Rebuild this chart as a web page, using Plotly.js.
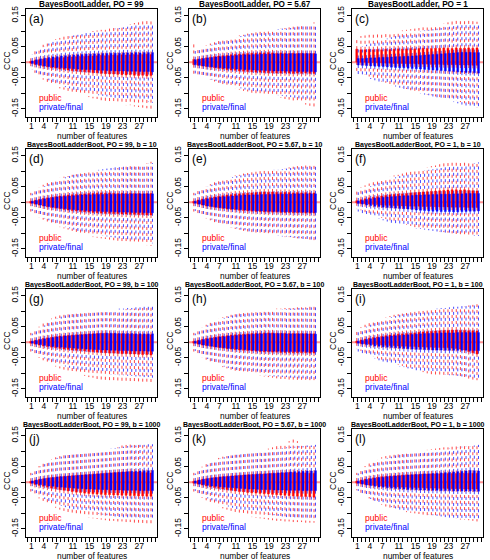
<!DOCTYPE html>
<html>
<head>
<meta charset="utf-8">
<script src="https://cdn.plot.ly/plotly-3.0.1.min.js"></script>
<style>html,body{margin:0;padding:0;background:#fff;}#chart{width:490px;height:560px;}</style>
</head>
<body>
<div id="chart"></div>
<script>
// ---------- data (CCC values in thousandths) ----------
const FEATURES = [1,2,3,4,5,6,7,8,9,10,11,12,13,14,15,16,17,18,19,20,21,22,23,24,25,26,27,28,29,30];
const X_TICK_VALUES = [1,4,7,11,15,19,23,27];
const X_TICK_LABELS = ['1','4','7','11','15','19','23','27'];
const Y_TICK_VALUES = [-0.15,-0.05,0.05,0.15];
const Y_TICK_LABELS = ['-0.15','-0.05','0.05','0.15'];
const PANEL_TITLES = [
  'BayesBootLadder, PO = 99','BayesBootLadder, PO = 5.67','BayesBootLadder, PO = 1',
  'BayesBootLadderBoot, PO = 99, b = 10','BayesBootLadderBoot, PO = 5.67, b = 10','BayesBootLadderBoot, PO = 1, b = 10',
  'BayesBootLadderBoot, PO = 99, b = 100','BayesBootLadderBoot, PO = 5.67, b = 100','BayesBootLadderBoot, PO = 1, b = 100',
  'BayesBootLadderBoot, PO = 99, b = 1000','BayesBootLadderBoot, PO = 5.67, b = 1000','BayesBootLadderBoot, PO = 1, b = 1000'];
const PANEL_LETTERS = ['(a)','(b)','(c)','(d)','(e)','(f)','(g)','(h)','(i)','(j)','(k)','(l)'];
const SERIES_NAMES = ['public','private/final'];

// Panel a
const A_PUB_Q3 = [3,6,8,10,12,12,14,15,15,17,17,18,19,19,20,20,21,22,21,22,23,22,24,23,24,25,24,25,26,25];
const A_PUB_Q1 = [-3,-7,-10,-13,-15,-18,-19,-22,-23,-25,-27,-28,-30,-31,-32,-34,-34,-36,-37,-38,-38,-39,-40,-41,-40,-42,-43,-42,-44,-43];
const A_PUB_HI = [22,36,46,56,60,68,74,78,82,84,86,90,92,94,96,100,102,104,104,108,110,112,116,118,122,126,128,132,136,140];
const A_PUB_LO = [-22,-34,-46,-56,-64,-72,-76,-84,-88,-92,-96,-100,-104,-108,-112,-116,-118,-122,-124,-128,-130,-132,-136,-138,-138,-142,-144,-146,-148,-150];
const A_PRV_Q3 = [4,8,11,13,15,17,18,20,21,22,23,24,25,26,26,27,27,28,28,29,29,29,30,30,30,31,30,31,31,31];
const A_PRV_Q1 = [-4,-7,-10,-12,-14,-15,-17,-18,-19,-20,-21,-22,-23,-24,-24,-25,-26,-26,-27,-27,-28,-28,-28,-29,-29,-29,-30,-30,-30,-31];
const A_PRV_HI = [24,34,44,52,60,66,70,76,78,82,86,88,90,94,96,98,100,102,104,106,108,110,112,114,116,118,120,120,122,124];
const A_PRV_LO = [-24,-34,-42,-50,-58,-64,-70,-74,-80,-84,-88,-90,-94,-98,-100,-102,-106,-108,-110,-112,-114,-116,-118,-120,-122,-122,-124,-126,-128,-130];
// Panel b
const B_PUB_Q3 = [9,10,12,14,16,18,20,21,22,24,25,26,27,28,29,29,30,30,31,30,29,30,29,28,29,28,29,28,28,28];
const B_PUB_Q1 = [-8,-10,-12,-14,-16,-18,-20,-22,-24,-25,-26,-28,-29,-30,-31,-32,-32,-33,-34,-34,-35,-35,-34,-35,-36,-35,-36,-35,-36,-36];
const B_PUB_HI = [58,44,48,54,60,64,68,72,76,80,82,86,88,92,94,96,98,100,102,104,106,108,110,112,114,116,118,120,124,128];
const B_PUB_LO = [-40,-40,-44,-50,-56,-62,-66,-72,-76,-80,-84,-88,-92,-94,-98,-100,-104,-106,-108,-110,-112,-114,-118,-120,-124,-128,-132,-136,-140,-146];
const B_PRV_Q3 = [8,10,12,14,15,17,18,19,20,21,22,23,24,24,25,25,26,26,26,27,27,27,27,28,27,28,28,28,28,27];
const B_PRV_Q1 = [-8,-10,-12,-14,-15,-17,-18,-19,-20,-21,-22,-23,-24,-24,-25,-26,-26,-27,-27,-28,-28,-28,-29,-29,-29,-30,-30,-30,-30,-31];
const B_PRV_HI = [36,40,46,52,56,62,66,70,74,78,80,84,88,90,92,96,98,100,102,104,106,108,108,110,112,114,116,118,120,122];
const B_PRV_LO = [-36,-40,-46,-50,-56,-60,-66,-70,-74,-78,-80,-84,-88,-90,-94,-96,-98,-100,-102,-104,-106,-108,-110,-112,-114,-116,-118,-120,-122,-124];
// Panel c
const C_PUB_Q3 = [42,40,40,41,40,41,40,42,41,42,43,42,43,44,43,44,45,44,44,45,45,46,45,44,46,45,45,46,45,46];
const C_PUB_Q1 = [1,0,0,-1,-1,-2,-2,-3,-3,-4,-4,-4,-5,-5,-5,-6,-6,-6,-7,-7,-7,-8,-8,-8,-8,-9,-9,-9,-10,-10];
const C_PUB_HI = [80,84,86,88,90,92,92,94,96,98,100,102,104,106,108,110,112,114,116,118,120,124,128,134,140,138,136,134,132,130];
const C_PUB_LO = [-30,-34,-40,-46,-52,-56,-62,-66,-70,-74,-78,-82,-86,-90,-94,-98,-100,-104,-106,-110,-112,-116,-118,-122,-124,-128,-132,-136,-140,-146];
const C_PRV_Q3 = [12,12,13,14,14,15,16,16,17,18,18,19,19,20,21,22,23,24,25,26,27,28,29,30,31,32,32,32,31,31];
const C_PRV_Q1 = [-9,-10,-11,-12,-13,-14,-14,-15,-16,-17,-18,-18,-19,-20,-21,-22,-23,-24,-25,-26,-27,-28,-29,-30,-31,-32,-33,-33,-34,-35];
const C_PRV_HI = [48,52,56,60,64,68,72,76,80,84,86,90,92,96,98,100,102,104,106,108,110,112,114,116,118,120,120,122,124,126];
const C_PRV_LO = [-40,-44,-48,-54,-58,-62,-66,-70,-74,-78,-82,-86,-88,-92,-96,-100,-104,-106,-110,-114,-118,-122,-124,-128,-132,-136,-140,-144,-148,-150];
// Panel d
const D_PUB_Q3 = [3,6,9,12,14,16,18,20,21,23,24,25,26,27,28,28,29,30,29,30,29,28,29,28,29,28,28,27,28,28];
const D_PUB_Q1 = [-3,-6,-9,-12,-15,-17,-19,-21,-23,-25,-27,-28,-30,-31,-32,-33,-34,-35,-36,-36,-37,-37,-38,-38,-39,-39,-40,-40,-41,-41];
const D_PUB_HI = [30,40,48,56,62,68,74,78,82,84,88,90,92,94,96,98,100,102,104,106,108,110,112,114,116,118,120,122,126,130];
const D_PUB_LO = [-30,-40,-48,-56,-62,-68,-74,-80,-84,-88,-92,-96,-100,-104,-108,-112,-114,-116,-118,-120,-122,-124,-126,-128,-130,-132,-134,-136,-138,-140];
const D_PRV_Q3 = [3,6,9,11,13,15,17,18,19,20,21,22,23,24,24,25,25,25,26,26,26,26,27,26,27,27,27,27,27,27];
const D_PRV_Q1 = [-3,-6,-9,-12,-14,-16,-18,-20,-21,-23,-24,-25,-26,-27,-28,-29,-29,-30,-30,-31,-31,-32,-32,-32,-33,-33,-33,-34,-34,-34];
const D_PRV_HI = [28,36,44,52,58,64,70,74,80,84,88,92,94,98,100,102,104,106,108,110,112,114,116,116,118,120,120,122,124,126];
const D_PRV_LO = [-28,-36,-44,-52,-58,-64,-70,-74,-80,-84,-88,-92,-94,-98,-100,-104,-106,-108,-110,-112,-114,-116,-118,-120,-122,-124,-126,-128,-130,-132];
// Panel e
const E_PUB_Q3 = [3,7,10,13,15,17,19,21,23,24,26,27,28,29,30,31,32,33,32,33,32,31,32,31,30,31,30,31,30,30];
const E_PUB_Q1 = [-3,-6,-9,-12,-14,-16,-18,-20,-22,-23,-24,-26,-27,-28,-29,-30,-30,-31,-32,-32,-32,-33,-33,-33,-34,-34,-34,-35,-35,-35];
const E_PUB_HI = [30,38,46,52,58,64,70,74,78,82,86,88,92,94,96,98,100,102,104,106,108,108,110,112,114,116,116,118,120,122];
const E_PUB_LO = [-30,-38,-46,-52,-58,-64,-70,-74,-78,-82,-86,-88,-92,-94,-96,-98,-100,-102,-104,-106,-108,-110,-112,-112,-114,-116,-116,-118,-120,-122];
const E_PRV_Q3 = [3,6,9,11,13,15,17,18,19,20,21,22,23,23,24,24,25,25,25,26,26,26,26,26,27,27,27,27,27,27];
const E_PRV_Q1 = [-3,-6,-9,-12,-14,-16,-18,-19,-21,-22,-23,-24,-25,-26,-27,-28,-28,-29,-29,-30,-30,-31,-31,-31,-32,-32,-32,-32,-33,-33];
const E_PRV_HI = [28,36,44,50,56,62,68,72,76,80,84,86,90,92,94,96,98,100,102,104,104,106,108,110,112,112,114,116,118,120];
const E_PRV_LO = [-28,-36,-44,-50,-56,-62,-68,-72,-76,-80,-84,-88,-90,-94,-96,-98,-100,-102,-104,-106,-108,-110,-110,-112,-114,-116,-118,-118,-120,-122];
// Panel f
const F_PUB_Q3 = [5,8,11,14,16,18,20,22,24,25,26,27,28,30,31,32,33,34,35,36,37,38,39,40,40,39,40,38,37,36];
const F_PUB_Q1 = [-2,-4,-5,-6,-7,-8,-9,-10,-10,-11,-11,-12,-12,-13,-13,-13,-14,-14,-14,-15,-15,-15,-15,-16,-16,-16,-16,-17,-17,-17];
const F_PUB_HI = [40,48,54,60,66,70,74,78,82,86,88,92,96,100,102,106,108,112,116,118,122,126,128,130,132,130,128,126,124,124];
const F_PUB_LO = [-22,-26,-32,-36,-42,-46,-50,-54,-58,-62,-66,-70,-72,-76,-80,-84,-86,-88,-90,-92,-94,-96,-98,-100,-102,-104,-106,-108,-110,-112];
const F_PRV_Q3 = [4,6,9,11,13,14,16,17,18,19,20,21,21,22,23,23,24,24,25,25,26,26,26,27,27,27,28,28,28,28];
const F_PRV_Q1 = [-4,-6,-9,-11,-13,-14,-16,-17,-18,-19,-20,-21,-22,-23,-25,-26,-27,-28,-29,-29,-30,-30,-30,-31,-31,-30,-30,-29,-29,-28];
const F_PRV_HI = [32,40,46,52,58,62,68,72,76,80,84,86,90,94,96,98,102,104,106,108,110,112,114,116,118,120,122,124,126,128];
const F_PRV_LO = [-30,-36,-42,-46,-50,-54,-58,-62,-66,-70,-72,-76,-78,-80,-84,-86,-88,-90,-92,-94,-96,-98,-100,-100,-102,-104,-104,-106,-108,-108];
// Panel g
const G_PUB_Q3 = [3,6,9,12,14,16,18,20,21,22,23,24,25,26,27,27,28,29,29,28,28,27,27,26,26,26,25,25,25,24];
const G_PUB_Q1 = [-3,-6,-9,-12,-14,-16,-18,-20,-22,-23,-25,-26,-27,-28,-30,-31,-32,-33,-34,-35,-35,-36,-37,-37,-38,-38,-39,-40,-40,-41];
const G_PUB_HI = [30,40,50,60,68,76,82,86,88,90,92,94,94,96,96,98,98,100,100,102,102,104,104,106,106,108,108,110,110,112];
const G_PUB_LO = [-30,-40,-50,-58,-66,-72,-78,-84,-88,-92,-96,-100,-104,-108,-112,-114,-118,-120,-122,-124,-126,-126,-128,-128,-130,-130,-130,-132,-132,-132];
const G_PRV_Q3 = [3,6,9,11,13,15,17,18,20,21,22,23,24,25,26,27,28,28,29,29,29,28,28,28,28,27,27,27,27,27];
const G_PRV_Q1 = [-3,-6,-8,-10,-12,-14,-15,-16,-17,-18,-19,-20,-21,-22,-23,-24,-24,-25,-25,-26,-26,-27,-27,-27,-28,-28,-28,-28,-29,-29];
const G_PRV_HI = [28,38,46,54,62,70,76,82,86,90,92,94,96,98,100,102,102,104,104,106,106,108,108,110,110,112,112,114,114,116];
const G_PRV_LO = [-28,-36,-44,-52,-58,-64,-70,-74,-78,-82,-86,-88,-92,-94,-96,-98,-100,-100,-102,-104,-104,-106,-106,-108,-108,-110,-110,-112,-112,-114];
// Panel h
const H_PUB_Q3 = [3,6,9,12,14,16,18,20,21,23,24,25,26,27,28,29,29,30,30,30,29,29,29,28,28,28,28,28,27,27];
const H_PUB_Q1 = [-3,-6,-9,-11,-13,-15,-17,-19,-21,-22,-24,-25,-26,-27,-28,-29,-30,-31,-31,-32,-32,-33,-33,-33,-34,-34,-34,-34,-35,-35];
const H_PUB_HI = [30,40,48,56,64,70,76,80,84,88,90,92,94,96,98,100,102,104,106,106,108,108,110,110,110,112,112,112,114,114];
const H_PUB_LO = [-30,-40,-48,-56,-62,-68,-74,-80,-84,-88,-92,-94,-98,-100,-104,-106,-108,-110,-112,-114,-116,-118,-118,-120,-120,-122,-122,-122,-124,-124];
const H_PRV_Q3 = [3,6,9,11,13,15,17,18,20,21,22,23,24,25,26,27,27,28,28,28,28,28,27,27,27,27,27,27,27,26];
const H_PRV_Q1 = [-3,-6,-9,-11,-13,-15,-17,-18,-20,-21,-22,-23,-24,-25,-26,-27,-28,-28,-29,-29,-29,-30,-30,-30,-30,-30,-30,-31,-31,-31];
const H_PRV_HI = [28,38,46,54,60,66,72,78,82,86,90,92,94,96,98,100,100,102,102,104,104,106,106,108,108,110,110,110,112,112];
const H_PRV_LO = [-28,-38,-46,-54,-60,-66,-72,-78,-82,-86,-90,-92,-96,-98,-100,-102,-104,-106,-108,-110,-110,-112,-112,-114,-114,-116,-116,-118,-118,-120];
// Panel i
const I_PUB_Q3 = [4,7,10,13,15,17,19,21,23,24,26,27,28,29,30,32,33,34,35,36,37,38,38,39,39,38,38,37,37,36];
const I_PUB_Q1 = [-2,-4,-5,-6,-7,-8,-9,-10,-11,-11,-12,-13,-13,-14,-14,-15,-15,-16,-16,-17,-17,-18,-18,-19,-20,-22,-25,-30,-34,-38];
const I_PUB_HI = [40,48,56,62,68,72,76,80,84,88,90,92,94,96,98,100,102,104,106,106,108,110,110,112,112,114,116,118,120,122];
const I_PUB_LO = [-22,-28,-34,-40,-46,-52,-56,-60,-64,-68,-72,-76,-80,-84,-88,-92,-96,-100,-104,-106,-108,-110,-112,-112,-114,-116,-118,-118,-120,-122];
const I_PRV_Q3 = [3,6,9,11,13,15,17,18,20,21,22,23,24,25,26,27,28,28,29,29,30,30,30,30,31,31,31,31,31,31];
const I_PRV_Q1 = [-3,-6,-8,-10,-12,-13,-15,-16,-17,-18,-19,-20,-21,-22,-23,-23,-24,-24,-25,-25,-25,-26,-26,-26,-26,-26,-26,-27,-27,-27];
const I_PRV_HI = [34,42,50,56,62,66,72,76,80,84,88,90,94,96,98,100,102,104,106,108,110,110,112,114,114,116,116,118,118,120];
const I_PRV_LO = [-30,-36,-42,-48,-52,-58,-62,-66,-70,-74,-78,-80,-84,-86,-90,-92,-94,-96,-98,-100,-102,-104,-106,-106,-108,-110,-110,-112,-114,-114];
// Panel j
const J_PUB_Q3 = [3,6,9,11,13,15,16,18,19,20,21,22,23,24,25,26,27,28,29,30,31,32,33,33,34,33,33,32,31,30];
const J_PUB_Q1 = [-3,-7,-10,-13,-16,-19,-21,-24,-26,-28,-30,-32,-33,-35,-36,-37,-38,-39,-40,-40,-41,-41,-42,-42,-43,-43,-44,-44,-45,-45];
const J_PUB_HI = [30,42,52,60,68,74,80,84,88,88,90,90,92,92,94,96,98,100,102,104,108,112,118,122,124,122,122,120,120,118];
const J_PUB_LO = [-30,-42,-52,-60,-68,-76,-82,-88,-92,-96,-100,-104,-108,-110,-114,-116,-118,-120,-122,-124,-124,-126,-126,-128,-128,-130,-130,-132,-132,-132];
const J_PRV_Q3 = [4,7,10,12,14,15,17,18,19,20,21,22,23,24,25,26,27,28,29,30,31,32,33,34,35,35,36,37,37,38];
const J_PRV_Q1 = [-3,-6,-8,-10,-12,-13,-15,-16,-17,-18,-19,-20,-21,-22,-22,-23,-23,-24,-24,-25,-25,-25,-26,-26,-26,-26,-27,-27,-27,-27];
const J_PRV_HI = [28,40,50,58,66,72,78,82,86,88,90,92,94,96,98,100,102,104,106,108,110,112,114,116,118,118,120,120,122,122];
const J_PRV_LO = [-28,-38,-46,-54,-60,-66,-72,-76,-80,-84,-88,-90,-94,-96,-98,-100,-102,-104,-106,-108,-110,-112,-114,-116,-116,-118,-118,-120,-120,-122];
// Panel k
const K_PUB_Q3 = [3,6,9,11,13,15,16,18,19,20,21,22,23,24,25,26,27,27,28,29,29,30,30,31,31,30,30,30,29,29];
const K_PUB_Q1 = [-3,-6,-9,-12,-15,-17,-20,-22,-24,-26,-28,-30,-31,-33,-34,-35,-36,-37,-38,-39,-40,-41,-42,-43,-44,-45,-46,-46,-47,-48];
const K_PUB_HI = [30,40,50,58,66,72,78,82,84,86,88,88,90,92,94,96,100,104,108,112,116,120,126,132,140,132,126,124,122,120];
const K_PUB_LO = [-30,-40,-50,-58,-66,-72,-78,-84,-88,-92,-96,-100,-104,-108,-112,-114,-116,-118,-120,-122,-124,-124,-126,-126,-128,-128,-128,-130,-130,-130];
const K_PRV_Q3 = [4,7,10,12,14,15,17,18,19,20,21,22,23,24,25,26,26,27,28,29,30,31,32,33,34,34,35,36,36,37];
const K_PRV_Q1 = [-3,-6,-8,-10,-12,-13,-15,-16,-17,-18,-19,-20,-21,-22,-22,-23,-24,-24,-24,-25,-25,-25,-26,-26,-26,-26,-27,-27,-27,-27];
const K_PRV_HI = [28,38,48,56,64,70,76,80,84,86,88,90,92,94,96,98,100,102,104,106,108,110,112,114,114,116,116,118,118,120];
const K_PRV_LO = [-28,-36,-44,-52,-58,-64,-70,-74,-78,-82,-86,-88,-92,-94,-96,-98,-100,-102,-104,-106,-108,-110,-112,-112,-114,-116,-116,-118,-118,-120];
// Panel l
const L_PUB_Q3 = [4,7,10,12,14,16,18,19,20,21,22,23,24,24,25,25,26,26,27,27,27,28,28,28,28,29,29,29,29,29];
const L_PUB_Q1 = [-3,-5,-7,-9,-10,-11,-12,-13,-14,-15,-15,-16,-16,-17,-17,-18,-18,-19,-19,-19,-20,-20,-20,-21,-21,-21,-22,-22,-22,-22];
const L_PUB_HI = [30,42,52,60,68,74,80,84,86,88,90,92,94,96,98,100,102,104,106,108,110,112,112,114,116,118,118,120,122,124];
const L_PUB_LO = [-26,-36,-44,-52,-60,-66,-72,-78,-82,-86,-90,-92,-96,-98,-100,-102,-104,-106,-108,-110,-112,-114,-114,-116,-118,-120,-120,-122,-124,-126];
const L_PRV_Q3 = [3,6,9,11,13,15,16,18,19,20,21,22,23,24,25,26,27,27,28,29,30,31,32,33,34,35,36,38,37,36];
const L_PRV_Q1 = [-3,-6,-9,-11,-13,-15,-16,-18,-19,-20,-21,-22,-23,-23,-24,-25,-25,-26,-26,-26,-27,-27,-27,-28,-28,-28,-28,-28,-29,-29];
const L_PRV_HI = [28,38,46,54,62,68,74,78,82,86,88,90,92,94,96,98,100,102,104,104,106,108,110,110,112,114,114,116,118,120];
const L_PRV_LO = [-28,-38,-46,-54,-60,-66,-72,-76,-80,-84,-88,-92,-94,-96,-98,-100,-102,-104,-106,-108,-110,-112,-114,-114,-116,-118,-118,-120,-120,-122];

const PANELS = [
  [[A_PUB_LO,A_PUB_Q1,A_PUB_Q3,A_PUB_HI],[A_PRV_LO,A_PRV_Q1,A_PRV_Q3,A_PRV_HI]],
  [[B_PUB_LO,B_PUB_Q1,B_PUB_Q3,B_PUB_HI],[B_PRV_LO,B_PRV_Q1,B_PRV_Q3,B_PRV_HI]],
  [[C_PUB_LO,C_PUB_Q1,C_PUB_Q3,C_PUB_HI],[C_PRV_LO,C_PRV_Q1,C_PRV_Q3,C_PRV_HI]],
  [[D_PUB_LO,D_PUB_Q1,D_PUB_Q3,D_PUB_HI],[D_PRV_LO,D_PRV_Q1,D_PRV_Q3,D_PRV_HI]],
  [[E_PUB_LO,E_PUB_Q1,E_PUB_Q3,E_PUB_HI],[E_PRV_LO,E_PRV_Q1,E_PRV_Q3,E_PRV_HI]],
  [[F_PUB_LO,F_PUB_Q1,F_PUB_Q3,F_PUB_HI],[F_PRV_LO,F_PRV_Q1,F_PRV_Q3,F_PRV_HI]],
  [[G_PUB_LO,G_PUB_Q1,G_PUB_Q3,G_PUB_HI],[G_PRV_LO,G_PRV_Q1,G_PRV_Q3,G_PRV_HI]],
  [[H_PUB_LO,H_PUB_Q1,H_PUB_Q3,H_PUB_HI],[H_PRV_LO,H_PRV_Q1,H_PRV_Q3,H_PRV_HI]],
  [[I_PUB_LO,I_PUB_Q1,I_PUB_Q3,I_PUB_HI],[I_PRV_LO,I_PRV_Q1,I_PRV_Q3,I_PRV_HI]],
  [[J_PUB_LO,J_PUB_Q1,J_PUB_Q3,J_PUB_HI],[J_PRV_LO,J_PRV_Q1,J_PRV_Q3,J_PRV_HI]],
  [[K_PUB_LO,K_PUB_Q1,K_PUB_Q3,K_PUB_HI],[K_PRV_LO,K_PRV_Q1,K_PRV_Q3,K_PRV_HI]],
  [[L_PUB_LO,L_PUB_Q1,L_PUB_Q3,L_PUB_HI],[L_PRV_LO,L_PRV_Q1,L_PRV_Q3,L_PRV_HI]]
];

// ---------- style / layout ----------
const W = 490, H = 560;
const FONT = 'Liberation Sans, Arial, Helvetica, sans-serif';
const COLORS = ['#ff0000', '#0000ff'];
const OFFSETS = [-0.38, -0.02];     // bar offsets (feature units)
const BOXW = 0.46;
const COL_LEFT = [26, 189, 352], PW = 131;
const ROW_TOP = [9, 149, 289, 429], PH = 108;
const px = v => v / W, py = v => 1 - v / H;
const S = 0.001;

const data = [], annotations = [], shapes = [];
const layout = {
  width: W, height: H, margin: {l:0, r:0, t:0, b:0},
  paper_bgcolor: '#fff', plot_bgcolor: '#fff',
  showlegend: false, barmode: 'overlay', bargap: 0,
  font: {family: FONT, color: '#000'}
};

PANELS.forEach((panel, i) => {
  const n = i + 1, ax = n === 1 ? '' : String(n);
  const r = Math.floor(i / 3), c = i % 3;
  const L = COL_LEFT[c], T = ROW_TOP[r];
  layout['xaxis' + ax] = {
    domain: [px(L), px(L + PW)], anchor: 'y' + ax, range: [-0.3, 31.3],
    tickmode: 'array', tickvals: X_TICK_VALUES, ticktext: X_TICK_LABELS,
    ticks: 'outside', ticklen: 4, tickwidth: 1, tickcolor: '#000', ticklabelstandoff: -3,
    minor: {tickmode: 'linear', tick0: 0, dtick: 1, ticks: 'outside', ticklen: 4, tickwidth: 1, tickcolor: '#000', showgrid: false},
    showline: true, mirror: true, linecolor: '#000', linewidth: 1,
    showgrid: false, zeroline: false, tickangle: 0,
    tickfont: {size: 8.5, family: FONT, color: '#000'}, fixedrange: true
  };
  layout['yaxis' + ax] = {
    domain: [py(T + PH), py(T)], anchor: 'x' + ax, range: [-0.176, 0.171],
    tickmode: 'array', tickvals: Y_TICK_VALUES, ticktext: Y_TICK_LABELS,
    ticks: 'outside', ticklen: 4, tickwidth: 1, tickcolor: '#000',
    minor: {tickmode: 'linear', tick0: 0, dtick: 0.05, ticks: 'outside', ticklen: 4, tickwidth: 1, tickcolor: '#000', showgrid: false},
    showline: true, mirror: true, linecolor: '#000', linewidth: 1,
    showgrid: false, zeroline: false, tickangle: -90,
    tickfont: {size: 8.5, family: FONT, color: '#000'}, fixedrange: true
  };
  // zero reference line
  shapes.push({type: 'line', layer: 'below', xref: 'x' + ax + ' domain', yref: 'y' + ax,
    x0: 0, x1: 1, y0: 0, y1: 0, line: {color: 'rgba(255,60,60,0.55)', width: 2}});

  panel.forEach((st, s) => {
    const [lo, q1, q3, hi] = st;
    // boxes
    data.push({
      type: 'bar', xaxis: 'x' + ax, yaxis: 'y' + ax, name: SERIES_NAMES[s],
      x: FEATURES, base: q1.map(v => v * S), y: q3.map((v, k) => (v - q1[k]) * S),
      width: BOXW, offset: OFFSETS[s],
      marker: {color: COLORS[s], line: {color: COLORS[s], width: 0.5}}, hoverinfo: 'skip'
    });
    // dashed whiskers
    const wx = [], wy = [];
    const cx = OFFSETS[s] + BOXW / 2;
    FEATURES.forEach((f, k) => {
      wx.push(f + cx, f + cx, null, f + cx, f + cx, null);
      wy.push(q3[k] * S, hi[k] * S, null, q1[k] * S, lo[k] * S, null);
    });
    data.push({
      type: 'scatter', mode: 'lines', xaxis: 'x' + ax, yaxis: 'y' + ax,
      x: wx, y: wy, opacity: 0.9, line: {color: COLORS[s], width: 0.8, dash: '3px,3px'},
      hoverinfo: 'skip', connectgaps: false
    });
  });

  // annotations
  annotations.push({xref: 'paper', yref: 'paper', x: px(L + PW / 2), y: py(T - 4.5),
    text: PANEL_TITLES[i], showarrow: false, xanchor: 'center', yanchor: 'middle',
    font: {size: r === 0 ? 8.2 : 7.0, family: FONT, weight: 'bold', color: '#000'}});
  annotations.push({xref: 'paper', yref: 'paper', x: px(L + 1), y: py(T + 10),
    text: PANEL_LETTERS[i], showarrow: false, xanchor: 'left', yanchor: 'middle',
    font: {size: 12, family: FONT, color: '#000'}});
  annotations.push({xref: 'paper', yref: 'paper', x: px(L + 11), y: py(T + 89),
    text: SERIES_NAMES[0], showarrow: false, xanchor: 'left', yanchor: 'middle',
    font: {size: 8.6, family: FONT, color: COLORS[0]}});
  annotations.push({xref: 'paper', yref: 'paper', x: px(L + 11), y: py(T + 98),
    text: SERIES_NAMES[1], showarrow: false, xanchor: 'left', yanchor: 'middle',
    font: {size: 8.6, family: FONT, color: COLORS[1]}});
  annotations.push({xref: 'paper', yref: 'paper', x: px(L + PW / 2), y: py(T + 127),
    text: 'number of features', showarrow: false, xanchor: 'center', yanchor: 'middle',
    font: {size: 8.4, family: FONT, color: '#000'}});
  annotations.push({xref: 'paper', yref: 'paper', x: px(L - 19), y: py(T + 52),
    text: 'CCC', showarrow: false, textangle: -90, xanchor: 'center', yanchor: 'middle',
    font: {size: 8.6, family: FONT, color: '#000'}});
});
layout.annotations = annotations;
layout.shapes = shapes;

Plotly.newPlot('chart', data, layout, {staticPlot: true, displayModeBar: false});
</script>
</body>
</html>
